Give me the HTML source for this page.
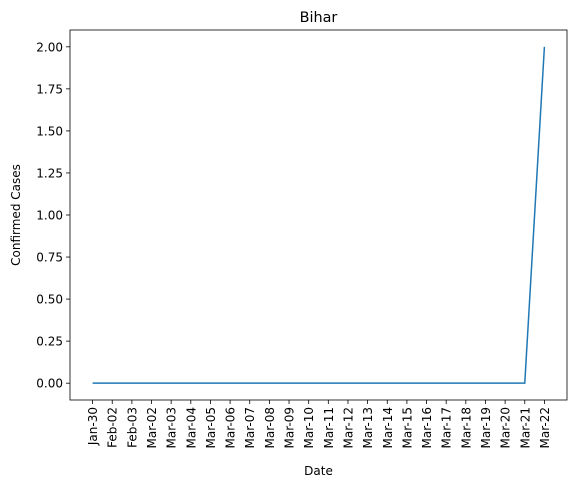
<!DOCTYPE html>
<html><head><meta charset="utf-8"><style>
body{margin:0;background:#fff;font-family:"Liberation Sans","DejaVu Sans",sans-serif;}
svg text{font-family:"DejaVu Sans","Liberation Sans",sans-serif;font-size:12px;fill:#000;}
</style></head><body>
<svg id="chart" width="576" height="487"></svg>
<script>
const categories=["Jan-30","Feb-02","Feb-03","Mar-02","Mar-03","Mar-04","Mar-05","Mar-06","Mar-07","Mar-08","Mar-09","Mar-10","Mar-11","Mar-12","Mar-13","Mar-14","Mar-15","Mar-16","Mar-17","Mar-18","Mar-19","Mar-20","Mar-21","Mar-22"];
const values=[0,0,0,0,0,0,0,0,0,0,0,0,0,0,0,0,0,0,0,0,0,0,0,2];
const yTicks=[0,0.25,0.5,0.75,1,1.25,1.5,1.75,2];
const L=70,R=567,T=30,B=400;
const n=categories.length;
const xmin=-0.05*(n-1),xmax=(n-1)*1.05;
const ymax=Math.max(...values),ymin=Math.min(...values),yr=ymax-ymin||1;
const y0=ymin-0.05*yr,y1=ymax+0.05*yr;
const X=i=>L+(i-xmin)/(xmax-xmin)*(R-L);
const Y=v=>B-(v-y0)/(y1-y0)*(B-T);
const svg=document.getElementById('chart');
const NS='http://www.w3.org/2000/svg';
function mk(t,a,p){const e=document.createElementNS(NS,t);for(const k in a)e.setAttribute(k,a[k]);(p||svg).appendChild(e);return e;}
const title=mk('text',{x:(L+R)/2,y:22,'text-anchor':'middle'});title.style.fontSize='14.4px';title.textContent='Bihar';


yTicks.forEach(v=>{
 const y=Y(v);
 const t=mk('line',{x1:L-4,x2:L,y1:y,y2:y,stroke:'#000','stroke-width':0.8});
 
 
 const l=mk('text',{x:L-7,y:y+4.5,'text-anchor':'end'});l.textContent=v.toFixed(2);
 
 
});
categories.forEach((c,i)=>{
 const x=X(i);
 const t=mk('line',{x1:x,x2:x,y1:B,y2:B+4,stroke:'#000','stroke-width':0.8});
 
 
 const l=mk('text',{x:x+4.5,y:B+7,'text-anchor':'end',transform:`rotate(-90 ${x+4.5} ${B+7})`});l.textContent=c;
 
 
});
const line=mk('polyline',{points:values.map((v,i)=>X(i)+','+Y(v)).join(' '),fill:'none',stroke:'#1f77b4','stroke-width':1.5});


const frame=mk('rect',{x:L,y:T,width:R-L,height:B-T,fill:'none',stroke:'#000','stroke-width':0.8});


const xl=mk('text',{x:(L+R)/2,y:475,'text-anchor':'middle'});xl.textContent='Date';


const yl=mk('text',{x:20,y:(T+B)/2,'text-anchor':'middle',transform:`rotate(-90 20 ${(T+B)/2})`});yl.textContent='Confirmed Cases';


</script>
</body></html>
